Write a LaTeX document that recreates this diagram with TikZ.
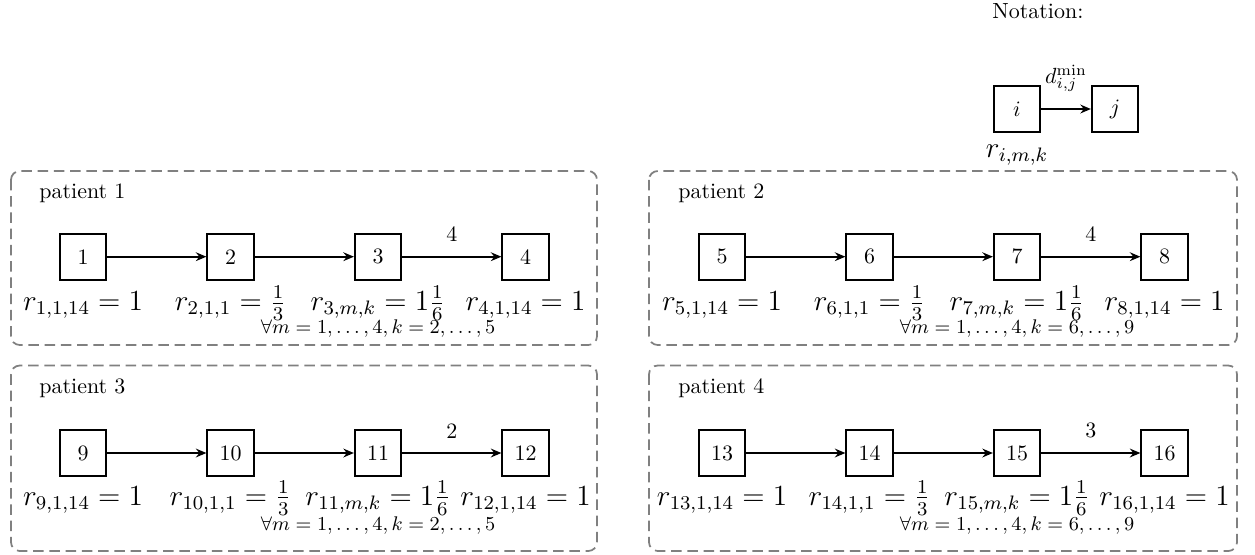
\documentclass[tikz,border=0pt]{standalone}
\usepackage{graphicx}
\usetikzlibrary{arrows.meta}
% large label for the r values
\newcommand{\rval}[1]{\scalebox{1.11}{\large$#1$}}
\begin{document}
\begin{tikzpicture}[x=0.016cm,y=-0.016cm,
  taskbox/.style={draw, line width=0.9pt, minimum size=0.74cm, inner sep=0pt},
  flow/.style={line width=0.9pt, -{Stealth[length=4.8pt,width=4pt,inset=1.6pt]}},
  group/.style={draw=black!50, thick, dash pattern=on 4.8pt off 2.6pt, rounded corners=4pt},
  rlabel/.style={anchor=base, inner sep=0pt},
  cond/.style={anchor=base, font=\small, inner sep=0pt},
  title/.style={anchor=base west, inner sep=0pt}]
\useasboundingbox (0,0) rectangle (1255,554);

% notation legend
\node[title] (nt) at (992,18) {Notation:};
\node[taskbox] (ni) at (1017,109) {$i$};
\node[taskbox] (nj) at (1115,109) {$j$};
\draw[flow] (ni) -- node[above=4pt] (nd) {$d^{\min}_{i,j}$} (nj);
\node[rlabel] (nr) at (1017,157) {\rval{r_{i,m,k}}};

% patient 1
\draw[group] (11,171) rectangle (597,345);
\node[title] (p1) at (39,198) {patient 1};
\node[taskbox] (n1) at (83,256.7) {1};
\node[taskbox] (n2) at (230.5,256.7) {2};
\node[taskbox] (n3) at (378,256.7) {3};
\node[taskbox] (n4) at (525.5,256.7) {4};
\draw[flow] (n1) -- (n2);
\draw[flow] (n2) -- (n3);
\draw[flow] (n3) -- node[above=3pt] (w1) {4} (n4);
\node[rlabel] (r1) at (83,310.5) {\rval{r_{1,1,14}=1}};
\node[rlabel] (r2) at (230.5,310.5) {\rval{r_{2,1,1}=\frac{1}{3}}};
\node[rlabel] (r3) at (378,310.5) {\rval{r_{3,m,k}=1\frac{1}{6}}};
\node[rlabel] (r4) at (525.5,310.5) {\rval{r_{4,1,14}=1}};
\node[cond] (c1) at (378,333.3) {$\forall m=1,\ldots,4, k=2,\ldots,5$};

% patient 2
\draw[group] (649,171) rectangle (1237,345);
\node[title] (p2) at (678,198) {patient 2};
\node[taskbox] (n5) at (722,256.7) {5};
\node[taskbox] (n6) at (869.5,256.7) {6};
\node[taskbox] (n7) at (1017,256.7) {7};
\node[taskbox] (n8) at (1164.5,256.7) {8};
\draw[flow] (n5) -- (n6);
\draw[flow] (n6) -- (n7);
\draw[flow] (n7) -- node[above=3pt] (w2) {4} (n8);
\node[rlabel] (r5) at (722,310.5) {\rval{r_{5,1,14}=1}};
\node[rlabel] (r6) at (869.5,310.5) {\rval{r_{6,1,1}=\frac{1}{3}}};
\node[rlabel] (r7) at (1017,310.5) {\rval{r_{7,m,k}=1\frac{1}{6}}};
\node[rlabel] (r8) at (1164.5,310.5) {\rval{r_{8,1,14}=1}};
\node[cond] (c2) at (1017,333.3) {$\forall m=1,\ldots,4, k=6,\ldots,9$};

% patient 3
\draw[group] (11,365.5) rectangle (597,551);
\node[title] (p3) at (39,393.3) {patient 3};
\node[taskbox] (n9) at (83,453) {9};
\node[taskbox] (n10) at (230.5,453) {10};
\node[taskbox] (n11) at (378,453) {11};
\node[taskbox] (n12) at (525.5,453) {12};
\draw[flow] (n9) -- (n10);
\draw[flow] (n10) -- (n11);
\draw[flow] (n11) -- node[above=3pt] (w3) {2} (n12);
\node[rlabel] (r9) at (83,505) {\rval{r_{9,1,14}=1}};
\node[rlabel] (r10) at (230.5,505) {\rval{r_{10,1,1}=\frac{1}{3}}};
\node[rlabel] (r11) at (378,505) {\rval{r_{11,m,k}=1\frac{1}{6}}};
\node[rlabel] (r12) at (525.5,505) {\rval{r_{12,1,14}=1}};
\node[cond] (c3) at (378,530) {$\forall m=1,\ldots,4, k=2,\ldots,5$};

% patient 4
\draw[group] (649,365.5) rectangle (1237,551);
\node[title] (p4) at (678,393.3) {patient 4};
\node[taskbox] (n13) at (722,453) {13};
\node[taskbox] (n14) at (869.5,453) {14};
\node[taskbox] (n15) at (1017,453) {15};
\node[taskbox] (n16) at (1164.5,453) {16};
\draw[flow] (n13) -- (n14);
\draw[flow] (n14) -- (n15);
\draw[flow] (n15) -- node[above=3pt] (w4) {3} (n16);
\node[rlabel] (r13) at (722,505) {\rval{r_{13,1,14}=1}};
\node[rlabel] (r14) at (869.5,505) {\rval{r_{14,1,1}=\frac{1}{3}}};
\node[rlabel] (r15) at (1017,505) {\rval{r_{15,m,k}=1\frac{1}{6}}};
\node[rlabel] (r16) at (1164.5,505) {\rval{r_{16,1,14}=1}};
\node[cond] (c4) at (1017,530) {$\forall m=1,\ldots,4, k=6,\ldots,9$};
\end{tikzpicture}
\end{document}
